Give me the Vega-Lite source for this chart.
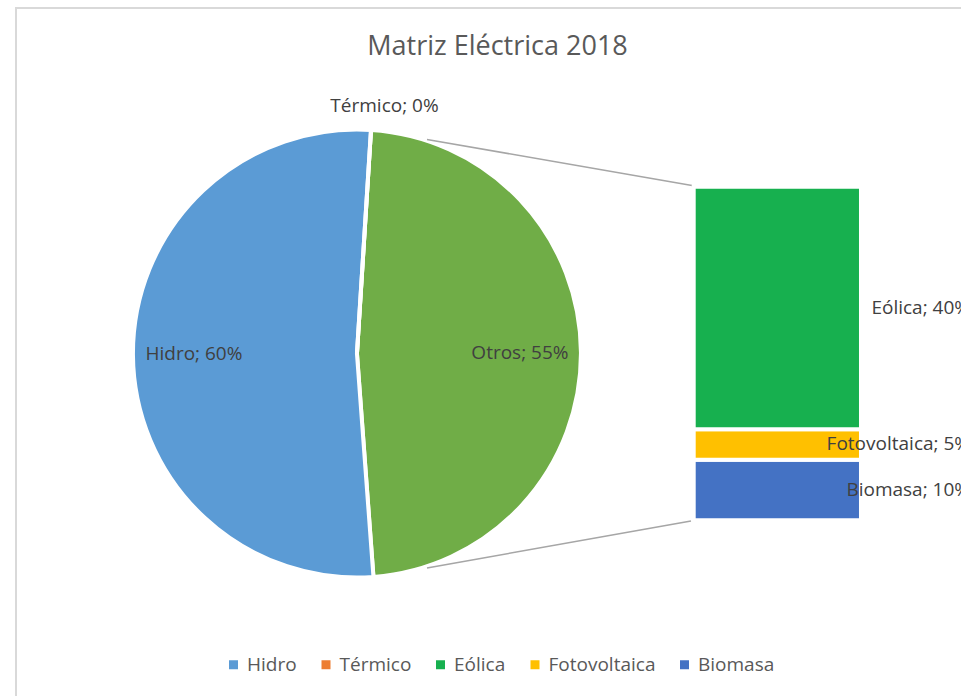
{
  "$schema": "https://vega.github.io/schema/vega-lite/v6.json",
  "width": 946,
  "height": 689,
  "autosize": {"type": "none"},
  "padding": {"left": 16, "top": 8, "right": -1, "bottom": -1},
  "background": "white",
  "title": {
    "text": "Matriz Eléctrica 2018",
    "font": "Open Sans",
    "fontSize": 27,
    "fontWeight": "normal",
    "color": "#595959",
    "anchor": "middle",
    "dx": 8.5,
    "offset": -74,
    "baseline": "alphabetic"
  },
  "config": {
    "view": {"stroke": "#d9d9d9", "strokeWidth": 2},
    "axis": {"disable": true},
    "text": {"font": "Open Sans", "fontSize": 19, "color": "#404040"}
  },
  "datasets": {
    "pie": [
      {"name": "Otros", "value": 55, "orden": 1, "label": "Otros; 55%"},
      {"name": "Hidro", "value": 60, "orden": 2, "label": "Hidro; 60%"},
      {"name": "Térmico", "value": 0, "orden": 3, "label": "Térmico; 0%"}
    ],
    "bar": [
      {"name": "Biomasa", "value": 10, "orden": 1, "label": "Biomasa; 10%"},
      {"name": "Fotovoltaica", "value": 5, "orden": 2, "label": "Fotovoltaica; 5%"},
      {"name": "Eólica", "value": 40, "orden": 3, "label": "Eólica; 40%"}
    ]
  },
  "layer": [
    {
      "data": {"name": "pie"},
      "mark": {"type": "arc", "outerRadius": 224, "stroke": "white", "strokeWidth": 4},
      "encoding": {
        "theta": {"field": "value", "type": "quantitative", "stack": true, "scale": {"range": [0.0628, 6.346]}},
        "order": {"field": "orden", "type": "quantitative"},
        "x": {"datum": -55.52, "type": "quantitative", "axis": null, "scale": {"domain": [0, 55], "range": [677.7, 1011.3], "zero": false, "nice": false}},
        "y": {"datum": 27.5, "type": "quantitative", "axis": null, "scale": {"domain": [0, 55], "range": [512.3, 178.7], "zero": false, "nice": false}},
        "color": {
          "field": "name",
          "type": "nominal",
          "scale": {
            "domain": ["Hidro", "Térmico", "Eólica", "Fotovoltaica", "Biomasa", "Otros"],
            "range": ["#5B9BD5", "#ED7D31", "#17B04F", "#FFC000", "#4472C4", "#70AD47"]
          },
          "legend": {
            "orient": "none",
            "legendX": 208,
            "legendY": 647,
            "direction": "horizontal",
            "title": null,
            "values": ["Hidro", "Térmico", "Eólica", "Fotovoltaica", "Biomasa"],
            "symbolType": "square",
            "symbolSize": 81,
            "symbolStrokeWidth": 0,
            "labelFont": "Open Sans",
            "labelFontSize": 19,
            "labelColor": "#595959",
            "labelOffset": 4,
            "columnPadding": 19.5,
            "padding": 0
          }
        }
      }
    },
    {
      "data": {"name": "pie"},
      "transform": [{"filter": "datum.name !== 'Térmico'"}],
      "mark": {"type": "text", "radius": 163},
      "encoding": {
        "theta": {"field": "value", "type": "quantitative", "stack": true},
        "order": {"field": "orden", "type": "quantitative"},
        "detail": {"field": "name", "type": "nominal"},
        "x": {"datum": -55.52, "type": "quantitative", "axis": null},
        "y": {"datum": 27.5, "type": "quantitative", "axis": null},
        "text": {"field": "label", "type": "nominal"}
      }
    },
    {
      "data": {"name": "pie"},
      "transform": [{"filter": "datum.name === 'Térmico'"}],
      "mark": {"type": "text", "radius": 248, "dx": 12},
      "encoding": {
        "theta": {"field": "value", "type": "quantitative", "stack": true},
        "detail": {"field": "name", "type": "nominal"},
        "x": {"datum": -55.52, "type": "quantitative", "axis": null},
        "y": {"datum": 27.5, "type": "quantitative", "axis": null},
        "text": {"field": "label", "type": "nominal"}
      }
    },
    {
      "data": {"values": [{}]},
      "mark": {"type": "rule", "color": "#a6a6a6", "strokeWidth": 1.5},
      "encoding": {
        "x": {"datum": -43.97, "type": "quantitative", "axis": null},
        "y": {"datum": 62.79, "type": "quantitative", "axis": null},
        "x2": {"datum": -0.28},
        "y2": {"datum": 55.2}
      }
    },
    {
      "data": {"values": [{}]},
      "mark": {"type": "rule", "color": "#a6a6a6", "strokeWidth": 1.5},
      "encoding": {
        "x": {"datum": -43.97, "type": "quantitative", "axis": null},
        "y": {"datum": -7.86, "type": "quantitative", "axis": null},
        "x2": {"datum": -0.45},
        "y2": {"datum": -0.12}
      }
    },
    {
      "data": {"name": "bar"},
      "transform": [{"stack": "value", "groupby": [], "sort": [{"field": "orden", "order": "ascending"}], "as": ["y0", "y1"]}],
      "mark": {"type": "bar", "stroke": "white", "strokeWidth": 4},
      "encoding": {
        "x": {"datum": 0, "type": "quantitative", "axis": null},
        "x2": {"datum": 27.58},
        "y": {"field": "y0", "type": "quantitative", "axis": null},
        "y2": {"field": "y1"},
        "color": {
          "field": "name",
          "type": "nominal",
          "scale": {
            "domain": ["Hidro", "Térmico", "Eólica", "Fotovoltaica", "Biomasa", "Otros"],
            "range": ["#5B9BD5", "#ED7D31", "#17B04F", "#FFC000", "#4472C4", "#70AD47"]
          },
          "legend": {
            "orient": "none",
            "legendX": 208,
            "legendY": 647,
            "direction": "horizontal",
            "title": null,
            "values": ["Hidro", "Térmico", "Eólica", "Fotovoltaica", "Biomasa"],
            "symbolType": "square",
            "symbolSize": 81,
            "symbolStrokeWidth": 0,
            "labelFont": "Open Sans",
            "labelFontSize": 19,
            "labelColor": "#595959",
            "labelOffset": 4,
            "columnPadding": 19.5,
            "padding": 0
          }
        }
      }
    },
    {
      "data": {"name": "bar"},
      "mark": {"type": "text", "align": "right"},
      "encoding": {
        "x": {"datum": 45.56, "type": "quantitative", "axis": null},
        "y": {"field": "value", "type": "quantitative", "stack": "zero", "bandPosition": 0.5, "axis": null},
        "order": {"field": "orden", "type": "quantitative"},
        "detail": {"field": "name", "type": "nominal"},
        "text": {"field": "label", "type": "nominal"}
      }
    }
  ]
}
